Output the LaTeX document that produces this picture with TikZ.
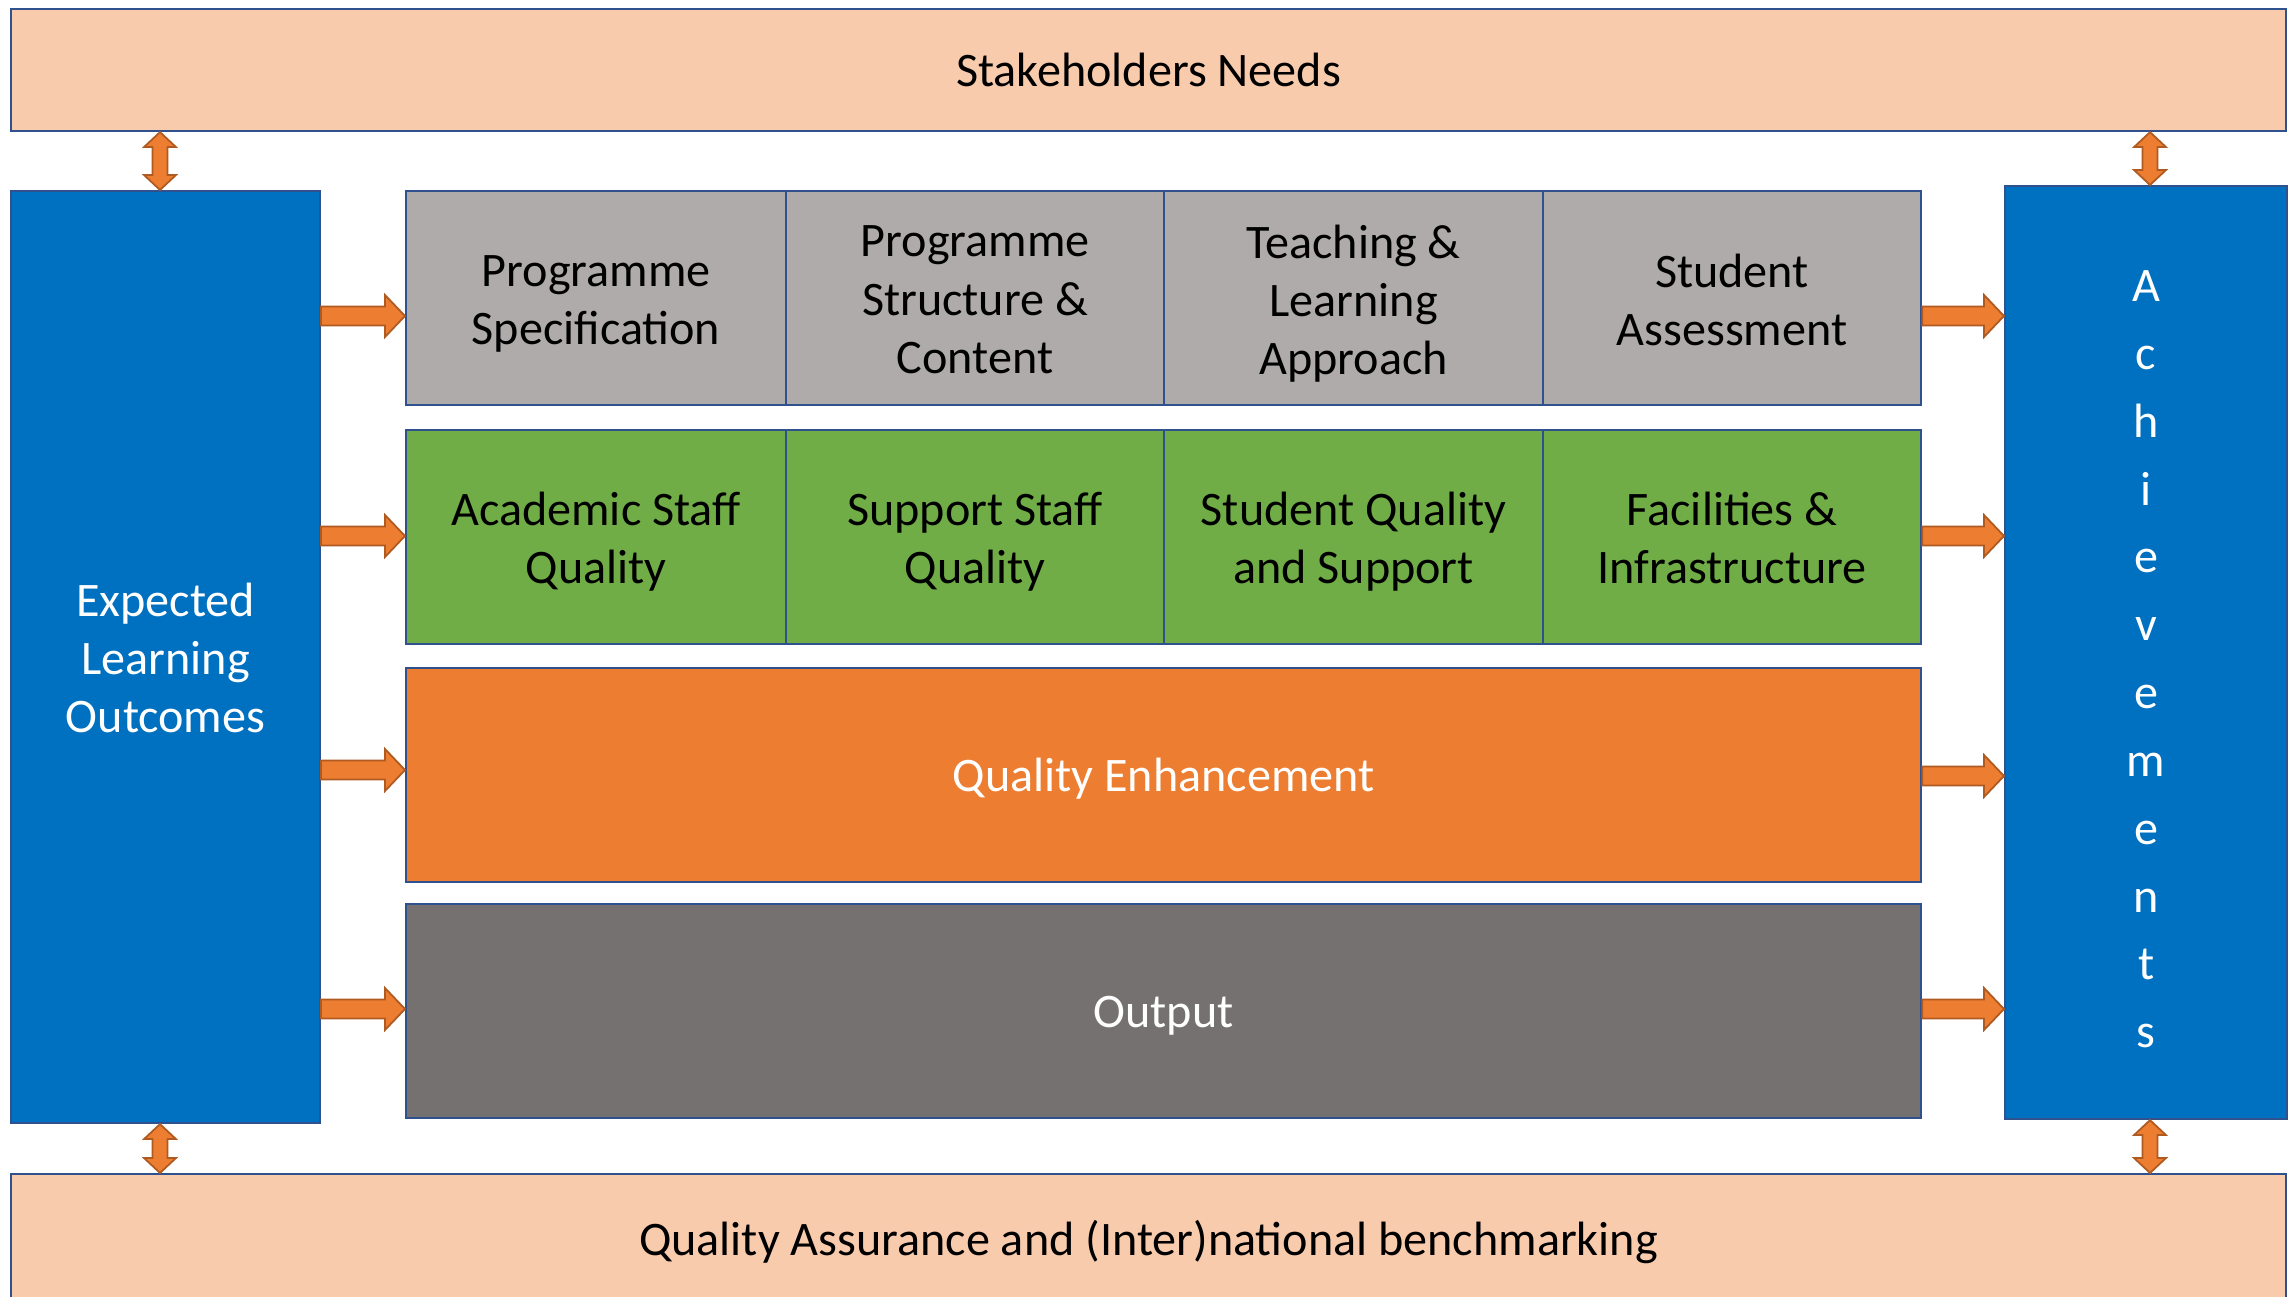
\documentclass[tikz,border=0pt]{standalone}
\usepackage{fontspec}
\setmainfont{Carlito}
\usetikzlibrary{calc}
\definecolor{peach}{HTML}{F8CBAD}
\definecolor{oblue}{HTML}{0070C0}
\definecolor{lgrey}{HTML}{AFABAB}
\definecolor{ogreen}{HTML}{70AD47}
\definecolor{oorange}{HTML}{ED7D31}
\definecolor{dgrey}{HTML}{767171}
\definecolor{edgeblue}{HTML}{2F528F}
\definecolor{arrowedge}{HTML}{AE5A21}
\newcommand\linestrut{\rule[-0.22em]{0pt}{1.14em}}
\tikzset{
  box/.style={draw=edgeblue, line width=0.6pt, rectangle, anchor=north west, inner sep=0pt},
  boxtext/.style={inner sep=0pt, align=center, font=\fontsize{13.7}{16.6}\selectfont,
    execute at begin node=\linestrut, execute at end node=\linestrut},
  fatarrow/.style={fill=oorange, draw=arrowedge, line width=0.5pt, line join=miter},
}
% \bx[text shift]{name}{x1}{y1}{x2}{y2}{box options}{text options}{text}
\newcommand\bx[9][0]{%
  \node[box,#7,minimum width={(#5-#3)*1cm},minimum height={(#6-#4)*1cm}] (#2) at (#3,-#4) {};
  \node[boxtext,#8] (#2-t) at ([yshift=-#1cm]#2.center) {#9};}
\newcommand\harrow[2]{\draw[fatarrow] let \p1=(#1), \p2=(#2) in
  (\x1,\y1+0.095cm) -- (\x2-0.2cm,\y1+0.095cm) -- (\x2-0.2cm,\y1+0.21cm) -- (\x2,\y1)
  -- (\x2-0.2cm,\y1-0.21cm) -- (\x2-0.2cm,\y1-0.095cm) -- (\x1,\y1-0.095cm) -- cycle;}
\newcommand\varrow[2]{\draw[fatarrow] let \p1=(#1), \p2=(#2) in
  (\x1,\y1) -- (\x1+0.16cm,\y1-0.15cm) -- (\x1+0.075cm,\y1-0.15cm) -- (\x1+0.075cm,\y2+0.15cm)
  -- (\x1+0.16cm,\y2+0.15cm) -- (\x1,\y2) -- (\x1-0.16cm,\y2+0.15cm) -- (\x1-0.075cm,\y2+0.15cm)
  -- (\x1-0.075cm,\y1-0.15cm) -- (\x1-0.16cm,\y1-0.15cm) -- cycle;}
\begin{document}
\begin{tikzpicture}
\useasboundingbox (0,0) rectangle (22.92,-12.97);
\clip (0,0) rectangle (22.92,-12.97);
\fill[white] (0,0) rectangle (22.92,-12.97);
% outer frame
\bx{sn}{0.10}{0.08}{22.85}{1.30}{fill=peach}{}{Stakeholders Needs}
\bx{qa}{0.10}{11.73}{22.85}{13.03}{fill=peach}{}{Quality Assurance and (Inter)national benchmarking}
\bx[0.06]{elo}{0.10}{1.90}{3.19}{11.22}{fill=oblue}{text=white}{Expected\\Learning\\Outcomes}
\bx[0.12]{ach}{20.04}{1.85}{22.86}{11.18}{fill=oblue}{text=white,font=\fontsize{13.7}{19.3}\selectfont}{A\\c\\h\\i\\e\\v\\e\\m\\e\\n\\t\\s}
% row 1
\bx[0.07]{ps}{4.05}{1.90}{7.85}{4.04}{fill=lgrey}{}{Programme\\Specification}
\bx[0.07]{psc}{7.85}{1.90}{11.63}{4.04}{fill=lgrey}{}{Programme\\Structure \&\\Content}
\bx[0.07]{tla}{11.63}{1.90}{15.42}{4.04}{fill=lgrey}{}{Teaching \&\\Learning\\Approach}
\bx[0.07]{sa}{15.42}{1.90}{19.20}{4.04}{fill=lgrey}{}{Student\\Assessment}
% row 2
\bx[0.06]{asq}{4.05}{4.29}{7.85}{6.43}{fill=ogreen}{}{Academic Staff\\Quality}
\bx[0.06]{ssq}{7.85}{4.29}{11.63}{6.43}{fill=ogreen}{}{Support Staff\\Quality}
\bx[0.06]{sqs}{11.63}{4.29}{15.42}{6.43}{fill=ogreen}{}{Student Quality\\and Support}
\bx[0.06]{fi}{15.42}{4.29}{19.20}{6.43}{fill=ogreen}{}{Facilities \&\\Infrastructure}
% row 3, 4
\bx{qe}{4.05}{6.67}{19.20}{8.81}{fill=oorange}{text=white}{Quality Enhancement}
\bx{out}{4.05}{9.03}{19.20}{11.17}{fill=dgrey}{text=white}{Output}
% arrow levels
\coordinate (y1) at (0,-3.16);
\coordinate (y2) at (0,-5.36);
\coordinate (y3l) at (0,-7.70);
\coordinate (y3r) at (0,-7.76);
\coordinate (y4) at (0,-10.09);
\coordinate (vl) at (1.60,0);
\coordinate (vr) at (21.50,0);
% horizontal arrows
\harrow{elo.east |- y1}{ps.west |- y1}
\harrow{elo.east |- y2}{asq.west |- y2}
\harrow{elo.east |- y3l}{qe.west |- y3l}
\harrow{elo.east |- y4}{out.west |- y4}
\harrow{sa.east |- y1}{ach.west |- y1}
\harrow{fi.east |- y2}{ach.west |- y2}
\harrow{qe.east |- y3r}{ach.west |- y3r}
\harrow{out.east |- y4}{ach.west |- y4}
% vertical double arrows
\varrow{sn.south -| vl}{elo.north -| vl}
\varrow{elo.south -| vl}{qa.north -| vl}
\varrow{sn.south -| vr}{ach.north -| vr}
\varrow{ach.south -| vr}{qa.north -| vr}
\end{tikzpicture}
\end{document}
